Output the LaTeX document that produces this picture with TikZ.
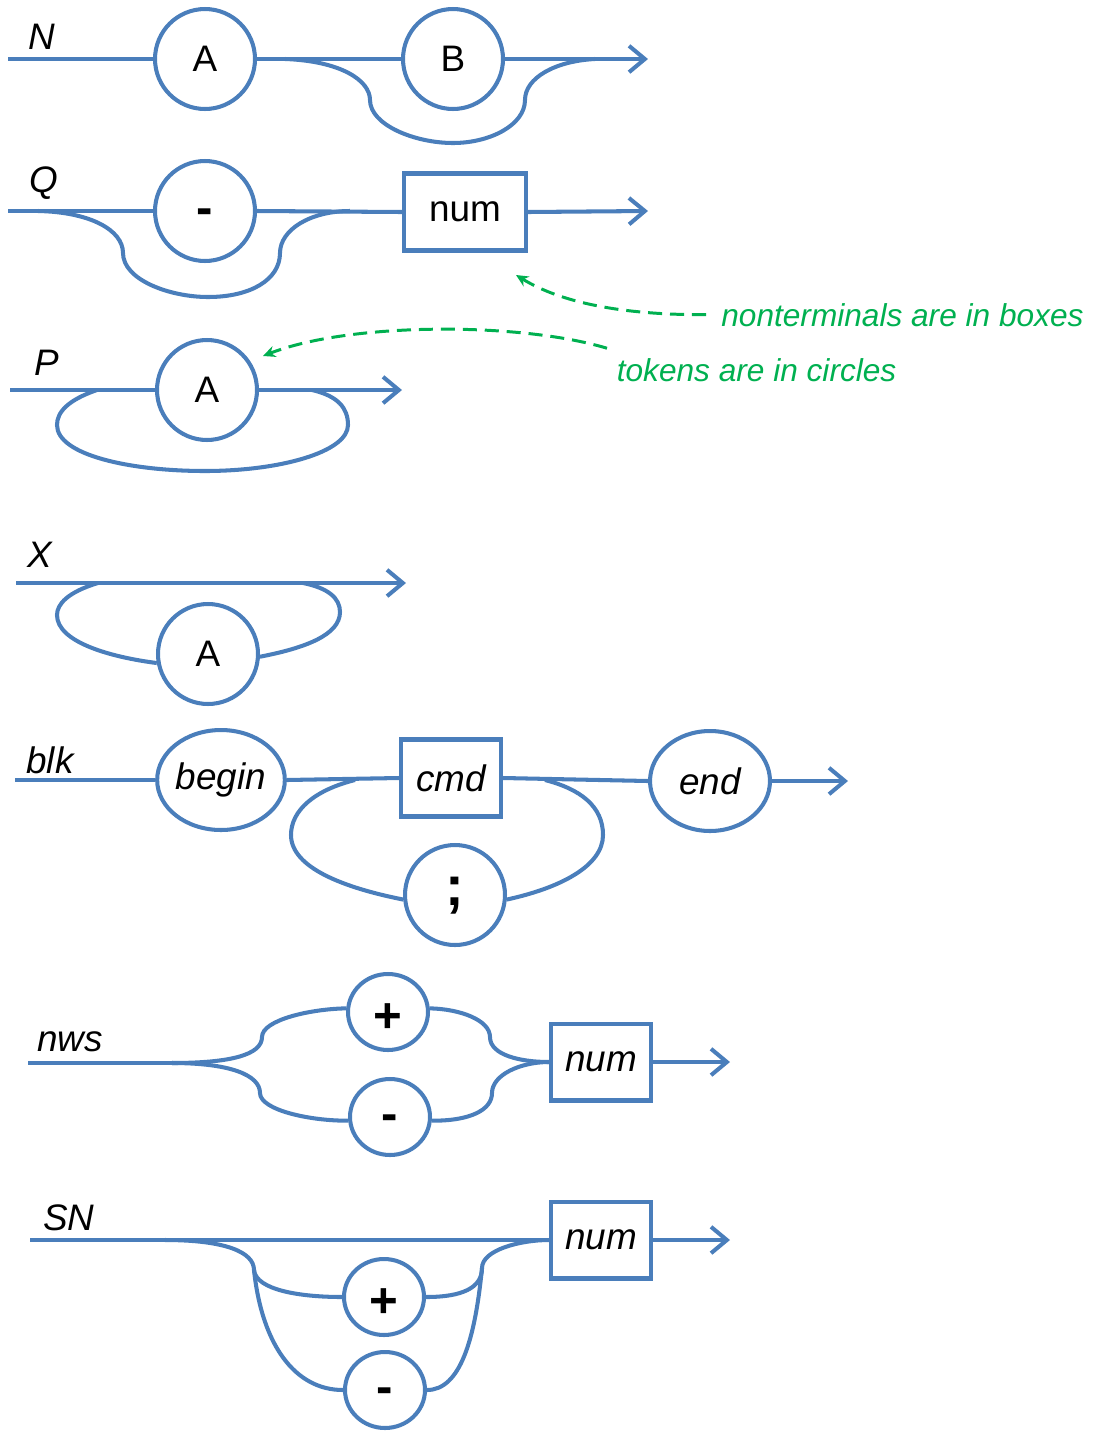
\documentclass[tikz,border=0pt]{standalone}
\usepackage{fontspec}
\setmainfont{Liberation Sans}
\usetikzlibrary{shapes.geometric,arrows.meta}
\definecolor{railblue}{RGB}{74,126,187}
\definecolor{notegreen}{RGB}{0,176,80}
\tikzset{
  wire/.style={draw=railblue, line width=2.3pt},
  exit/.style={wire, -{Straight Barb[length=9pt,width=15pt]}},
  token/.style={ellipse, draw=railblue, line width=2.3pt, inner sep=0pt,
    minimum width=2.0cm, minimum height=2.0cm, font=\fontsize{21pt}{25pt}\selectfont},
  small/.style={minimum width=1.6cm, minimum height=1.52cm},
  sym/.style={font=\fontsize{28pt}{30pt}\selectfont\bfseries},
  dashsym/.style={sym, text height=15.7pt, text depth=0pt},
  plussym/.style={sym, text height=23.5pt, text depth=0pt},
  semisym/.style={font=\fontsize{32pt}{34pt}\selectfont\bfseries, text height=16.6pt, text depth=4.8pt},
  nonterm/.style={rectangle, draw=railblue, line width=2.3pt, inner sep=0pt,
    minimum width=2.0cm, minimum height=1.54cm, font=\fontsize{21pt}{25pt}\selectfont},
  rulename/.style={font=\fontsize{21pt}{25pt}\selectfont\itshape, inner sep=0pt},
  note/.style={text=notegreen, font=\fontsize{18pt}{22pt}\selectfont\itshape, inner sep=0.19cm},
  pointer/.style={draw=notegreen, line width=1.7pt, dash pattern=on 8pt off 4.5pt,
    -{Stealth[length=7pt,width=6.5pt]}}
}
\begin{document}
\begin{tikzpicture}[x=0.02cm,y=-0.02cm]
\useasboundingbox (0,0) rectangle (1096,1431);

% N: A, then B optional
\node[rulename] (nLbl) at (42,37) {N};
\coordinate (nIn) at (8,59);
\node[token] (nA) at (205,59) {A};
\node[token] (nB) at (453,59) {B};
\coordinate (nOut) at (648,59);
\coordinate (nSplit) at (285,59);
\coordinate (nJoin) at (595,59);
\draw[wire] (nIn) -- (nA.west);
\draw[wire] (nA.east) -- (nB.west);
\draw[exit] (nB.east) -- (nOut);
\draw[wire] (nSplit) .. controls (340,61) and (370,80) .. (370,100)
  .. controls (370,125) and (415,143) .. (453,143)
  .. controls (490,143) and (525,125) .. (525,100)
  .. controls (525,78) and (555,61) .. (nJoin);

% Q: optional minus, then num
\node[rulename] (qLbl) at (44,183) {Q};
\coordinate (qIn) at (8,211);
\node[token, dashsym] (qMinus) at (205,211) {-};
\node[nonterm, minimum width=2.44cm] (qNum) at (465,212) {num};
\coordinate (qOut) at (648,211);
\coordinate (qSplit) at (38,211);
\coordinate (qJoin) at (350,211);
\draw[wire] (qIn) -- (qMinus.west);
\draw[wire] (qMinus.east) -- (qNum.west);
\draw[exit] (qNum.east) -- (qOut);
\draw[wire] (qSplit) .. controls (90,212) and (123,230) .. (123,253)
  .. controls (123,280) and (170,297) .. (208,297)
  .. controls (250,297) and (280,280) .. (280,253)
  .. controls (280,230) and (310,211) .. (qJoin);

% P: A repeated
\node[rulename] (pLbl) at (47,363) {P};
\coordinate (pIn) at (10,390);
\node[token] (pA) at (207,390) {A};
\coordinate (pOut) at (402,390);
\coordinate (pSplit) at (97,390);
\coordinate (pJoin) at (312,390);
\draw[wire] (pIn) -- (pA.west);
\draw[exit] (pA.east) -- (pOut);
\draw[wire] (pSplit) .. controls (68,400) and (57,412) .. (57,425)
  .. controls (57,455) and (130,471) .. (205,471)
  .. controls (280,471) and (348,452) .. (348,425)
  .. controls (348,408) and (338,396) .. (pJoin);

% X: A repeated, possibly none
\node[rulename] (xLbl) at (40,555) {X};
\coordinate (xIn) at (16,583);
\coordinate (xOut) at (406,583);
\node[token] (xA) at (208,654) {A};
\coordinate (xSplit) at (98,583);
\coordinate (xJoin) at (303,583);
\draw[exit] (xIn) -- (xOut);
\draw[wire] (xSplit) .. controls (68,592) and (57,604) .. (57,615)
  .. controls (57,642) and (110,657) .. (xA.190);
\draw[wire] (xA.-3) .. controls (305,648) and (340,635) .. (340,612)
  .. controls (340,598) and (328,588) .. (xJoin);

% blk: begin, cmd separated by ;, end
\node[rulename] (bLbl) at (50,760) {blk};
\coordinate (bIn) at (15,780);
\node[token, minimum width=2.36cm] (bBegin) at (221,780) {\itshape begin};
\node[nonterm] (bCmd) at (451,778) {\itshape cmd};
\node[token, minimum width=2.4cm] (bEnd) at (710,781) {\itshape end};
\coordinate (bOut) at (848,781);
\node[token, semisym] (bSemi) at (455,895) {;};
\coordinate (bSplit) at (355,780);
\coordinate (bJoin) at (545,780);
\draw[wire] (bIn) -- (bBegin.west);
\draw[wire] (bBegin.east) -- (bCmd.west);
\draw[wire] (bCmd.east) -- (bEnd.west);
\draw[exit] (bEnd.east) -- (bOut);
\draw[wire] (bSplit) .. controls (315,790) and (291,810) .. (291,835)
  .. controls (291,868) and (345,888) .. (bSemi.185);
\draw[wire] (bSemi.-5) .. controls (560,888) and (603,866) .. (603,835)
  .. controls (603,806) and (580,789) .. (bJoin);

% nws: + or -, then num
\node[rulename] (wLbl) at (70,1042) {nws};
\coordinate (wIn) at (28,1063);
\coordinate (wFork) at (172,1063);
\node[token, small, plussym] (wPlus) at (388,1012) {+};
\node[token, small, dashsym] (wMinus) at (390,1117) {-};
\node[nonterm] (wNum) at (601,1062) {\itshape num};
\coordinate (wOut) at (730,1062);
\draw[wire] (wIn) -- (wFork);
\draw[wire] (wFork) .. controls (230,1063) and (262,1055) .. (262,1037)
  .. controls (262,1020) and (310,1009) .. (wPlus.175);
\draw[wire] (wPlus.5) .. controls (460,1009) and (490,1020) .. (490,1037)
  .. controls (490,1055) and (520,1062) .. (wNum.west);
\draw[wire] (wFork) .. controls (230,1063) and (260,1075) .. (260,1093)
  .. controls (260,1110) and (310,1121) .. (wMinus.185);
\draw[wire] (wMinus.-5) .. controls (470,1121) and (492,1110) .. (492,1093)
  .. controls (492,1075) and (520,1062) .. (wNum.west);
\draw[exit] (wNum.east) -- (wOut);

% SN: optional + or -, then num
\node[rulename] (sLbl) at (69,1218) {SN};
\coordinate (sIn) at (30,1240);
\coordinate (sFork) at (165,1240);
\node[nonterm] (sNum) at (601,1240) {\itshape num};
\coordinate (sOut) at (730,1240);
\node[token, small, plussym] (sPlus) at (384,1297) {+};
\node[token, small, dashsym] (sMinus) at (385,1390) {-};
\coordinate (sDrop) at (254,1270);
\coordinate (sRise) at (482,1268);
\draw[wire] (sIn) -- (sNum.west);
\draw[exit] (sNum.east) -- (sOut);
\draw[wire] (sFork) .. controls (225,1240) and (254,1252) .. (sDrop);
\draw[wire] (sDrop) .. controls (256,1290) and (300,1297) .. (sPlus.west);
\draw[wire] (sDrop) .. controls (262,1345) and (295,1390) .. (sMinus.west);
\draw[wire] (sPlus.east) .. controls (462,1297) and (482,1288) .. (sRise);
\draw[wire] (sMinus.east) .. controls (460,1390) and (475,1340) .. (sRise);
\draw[wire] (sRise) .. controls (482,1250) and (520,1240) .. (sNum.west);

% Notes
\node[note, inner xsep=0.3cm, anchor=base west] (boxNote) at (706,326) {nonterminals are in boxes};
\node[note, anchor=base west] (tokNote) at (607,381) {tokens are in circles};
\coordinate (boxTip) at (516,275);
\coordinate (tokTip) at (263,356);
\draw[pointer] (boxNote.west) .. controls (620,315) and (560,302) .. (boxTip);
\draw[pointer] (tokNote.north west) .. controls (520,322) and (350,322) .. (tokTip);

\end{tikzpicture}
\end{document}
